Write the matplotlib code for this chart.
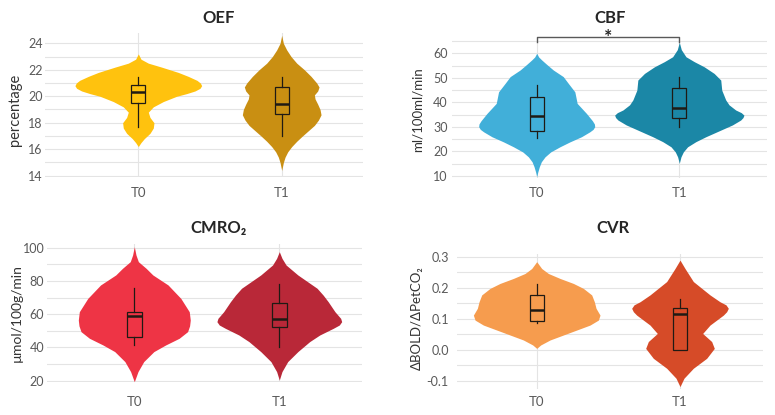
import matplotlib
matplotlib.use("Agg")
import matplotlib.pyplot as plt
from matplotlib.transforms import blended_transform_factory

plt.rcParams['axes.unicode_minus'] = False
FONT = ['Lato', 'DejaVu Sans']
plt.rcParams['font.family'] = FONT

# ---------------- data ----------------
groups = ["T0", "T1"]

# violin density profiles (y level, relative half-width)
oef_t0_y = [16.2, 16.5, 16.8, 17.2, 17.6, 18.0, 18.4, 18.8, 19.2, 19.6, 20.0, 20.2, 20.4, 20.6, 20.8, 21.0, 21.2, 21.5, 21.8, 22.2, 22.5, 22.8, 23.2]
oef_t0_d = [0, 8, 18, 35, 45, 47, 35, 30, 45, 75, 115, 145, 170, 185, 190, 186, 176, 150, 120, 70, 30, 8, 0]
oef_t1_y = [14.4, 15.0, 15.4, 15.8, 16.2, 16.6, 17.0, 17.4, 17.8, 18.2, 18.6, 19.0, 19.4, 19.8, 20.1, 20.4, 20.7, 21.0, 21.5, 22.0, 22.5, 23.0, 23.5, 24.0, 24.6]
oef_t1_d = [0, 5, 10, 18, 30, 45, 62, 80, 98, 110, 118, 115, 108, 100, 98, 108, 112, 105, 88, 68, 45, 28, 15, 5, 0]

cbf_t0_y = [9.7, 11.5, 13.8, 15.8, 17.8, 19.8, 21.9, 23.9, 26.0, 28.0, 29.0, 30.1, 31.2, 32.5, 35.5, 39.6, 44.3, 47.8, 50.5, 53.2, 55.5, 57.3, 58.5, 60.0]
cbf_t0_d = [0, 3, 8, 14, 25, 42, 70, 100, 135, 160, 170, 175, 174, 168, 150, 122, 115, 95, 80, 50, 30, 15, 6, 0]
cbf_t1_y = [15.2, 17.8, 19.8, 21.9, 24.0, 26.0, 28.4, 30.8, 32.8, 33.8, 34.8, 35.8, 36.9, 39.0, 41.0, 45.0, 49.1, 51.8, 54.5, 56.6, 58.6, 61.5, 64.5]
cbf_t1_d = [0, 5, 12, 25, 50, 80, 120, 160, 185, 192, 195, 187, 170, 150, 140, 128, 125, 105, 75, 45, 20, 6, 0]

cmro2_t0_y = [19.4, 25.5, 31.5, 37.5, 41.5, 45.5, 49.5, 53.0, 56.5, 61.5, 69.5, 77.6, 83.6, 87.6, 91.6, 95.6, 100.6]
cmro2_t0_d = [0, 11, 28, 58, 93, 133, 158, 164, 166, 163, 138, 100, 55, 35, 12, 5, 0]
cmro2_t1_y = [20.4, 25.5, 31.5, 37.5, 43.5, 47.5, 51.5, 53.5, 55.5, 57.5, 61.5, 67.5, 71.5, 75.6, 83.6, 89.6, 93.6, 97.6]
cmro2_t1_d = [0, 8, 25, 55, 90, 120, 160, 178, 185, 182, 165, 145, 130, 112, 55, 20, 8, 0]

cvr_t0_y = [0.005, 0.016, 0.032, 0.048, 0.064, 0.080, 0.096, 0.112, 0.134, 0.155, 0.177, 0.198, 0.214, 0.230, 0.246, 0.262, 0.284]
cvr_t0_d = [0, 12, 40, 80, 120, 160, 185, 190, 178, 173, 165, 140, 110, 70, 35, 15, 0]
cvr_t1_y = [-0.118, -0.091, -0.059, -0.027, 0.005, 0.027, 0.053, 0.080, 0.112, 0.123, 0.134, 0.145, 0.155, 0.177, 0.220, 0.262, 0.289]
cvr_t1_d = [0, 12, 40, 80, 103, 95, 68, 90, 130, 140, 145, 138, 120, 90, 40, 15, 0]

# box statistics: (whisker low, q1, median, q3, whisker high)
oef_box = [(17.7, 19.52, 20.35, 20.85, 21.45), (17.0, 18.63, 19.42, 20.67, 21.43)]
cbf_box = [(25.3, 28.4, 34.5, 42.3, 47.1), (29.8, 33.5, 37.6, 45.7, 50.2)]
cmro2_box = [(41.5, 46.1, 58.9, 61.5, 76.0), (40.1, 52.1, 57.1, 66.9, 78.0)]
cvr_box = [(0.086, 0.093, 0.128, 0.177, 0.212), (0.0, 0.0, 0.117, 0.134, 0.164)]

# ---------------- style ----------------
W, H = 775, 415
fig = plt.figure(figsize=(W / 100, H / 100), dpi=100)
SCALE = 1 / 430.0
GRID = '#E4E4E4'
TICKC = '#595959'
EDGE = '#1f1a14'

panels = [
    dict(title='OEF', ylabel='percentage', ylfs=10.5,
         prof=[(oef_t0_y, oef_t0_d), (oef_t1_y, oef_t1_d)], box=oef_box,
         colors=['#FFC20E', '#C98F12'],
         px=(45, 363, 138.3, 281.7), ymap=(24, 43.3, 14, 175.7), ylim=(13.9, 24.8),
         major=[14, 16, 18, 20, 22, 24], minor=[15, 17, 19, 21, 23], fmt='{:g}', pad=1.5,
         title_xy=(219, 18), ylabel_xy=(15, 110), xlab_y=193),
    dict(title='CBF', ylabel='ml/100ml/min', ylfs=9.5,
         prof=[(cbf_t0_y, cbf_t0_d), (cbf_t1_y, cbf_t1_d)], box=cbf_box,
         colors=['#41AFD9', '#1B87A6'],
         px=(452, 767, 536.7, 679.3), ymap=(60, 53.3, 10, 176), ylim=(9.3, 65.3),
         major=[10, 20, 30, 40, 50, 60], minor=[15, 25, 35, 45, 55, 65], fmt='{:g}', pad=3,
         title_xy=(610, 18), ylabel_xy=(418, 110), xlab_y=193),
    dict(title='CMRO₂', ylabel='µmol/100g/min', ylfs=10,
         prof=[(cmro2_t0_y, cmro2_t0_d), (cmro2_t1_y, cmro2_t1_d)], box=cmro2_box,
         colors=['#EE3445', '#B92838'],
         px=(47, 362, 134.3, 279.3), ymap=(100, 247.7, 20, 380.7), ylim=(19, 102),
         major=[20, 40, 60, 80, 100], minor=[30, 50, 70, 90], fmt='{:g}', pad=2,
         title_xy=(219, 228), ylabel_xy=(17, 313), xlab_y=402),
    dict(title='CVR', ylabel='ΔBOLD/ΔPetCO₂', ylfs=9.5,
         prof=[(cvr_t0_y, cvr_t0_d), (cvr_t1_y, cvr_t1_d)], box=cvr_box,
         colors=['#F69C4E', '#D64B28'],
         px=(457, 763, 536.7, 680), ymap=(0.3, 256.7, -0.1, 381), ylim=(-0.125, 0.31),
         major=[-0.1, 0.0, 0.1, 0.2, 0.3], minor=[-0.05, 0.05, 0.15, 0.25], fmt='{:.1f}', pad=6,
         title_xy=(613, 228), ylabel_xy=(417, 318), xlab_y=402),
]


def make_axes(p):
    left, right, xc0, xc1 = p['px']
    ya, ya_px, yb, yb_px = p['ymap']
    ylo, yhi = p['ylim']
    ppu = (yb_px - ya_px) / (ya - yb)
    top_px = ya_px - (yhi - ya) * ppu
    bot_px = yb_px + (yb - ylo) * ppu
    ax = fig.add_axes([left / W, 1 - bot_px / H, (right - left) / W, (bot_px - top_px) / H])
    span = xc1 - xc0
    ax.set_xlim((left - xc0) / span, 1 + (right - xc1) / span)
    ax.set_ylim(ylo, yhi)
    return ax


axes = []
for p in panels:
    ax = make_axes(p)
    axes.append(ax)
    for s in ax.spines.values():
        s.set_visible(False)
    ax.set_axisbelow(True)
    ax.set_xticks([0, 1])
    ax.set_xticklabels([])
    ax.set_yticks(p['major'])
    ax.set_yticklabels([p['fmt'].format(v) for v in p['major']], fontsize=9, color=TICKC)
    ax.set_yticks(p['minor'], minor=True)
    ax.tick_params(axis='both', which='both', length=0)
    ax.tick_params(axis='y', pad=p['pad'])
    ax.grid(axis='y', which='both', color=GRID, lw=0.8)
    ax.grid(axis='x', which='major', color=GRID, lw=0.8)

    for i, ((yy, dd), col) in enumerate(zip(p['prof'], p['colors'])):
        half = [d * SCALE for d in dd]
        ax.fill_betweenx(yy, [i - h for h in half], [i + h for h in half], color=col, lw=0, zorder=2)

    stats = [dict(whislo=b[0], q1=b[1], med=b[2], q3=b[3], whishi=b[4], label=g)
             for b, g in zip(p['box'], groups)]
    ax.bxp(stats, positions=[0, 1], widths=0.1, showfliers=False, showcaps=False,
           patch_artist=True, manage_ticks=False,
           boxprops=dict(facecolor='none', edgecolor=EDGE, lw=0.9),
           whiskerprops=dict(color=EDGE, lw=0.9),
           medianprops=dict(color=EDGE, lw=1.8), zorder=3)

    tr = blended_transform_factory(ax.transData, fig.transFigure)
    for i, g in enumerate(groups):
        ax.text(i, 1 - p['xlab_y'] / H, g, transform=tr, ha='center', va='center',
                fontsize=9.5, color=TICKC)

    fig.text(p['title_xy'][0] / W, 1 - p['title_xy'][1] / H, p['title'], ha='center', va='center',
             fontsize=12, fontweight='bold', color='#262626', family=FONT)
    fig.text(p['ylabel_xy'][0] / W, 1 - p['ylabel_xy'][1] / H, p['ylabel'], ha='center', va='center',
             rotation=90, fontsize=p['ylfs'], color='#333333', family=FONT)

# significance bracket on CBF
ax = axes[1]
ax.plot([0, 0, 1, 1], [64.8, 66.8, 66.8, 64.8], color='#595959', lw=1.0, clip_on=False, zorder=4)
tr = blended_transform_factory(ax.transData, fig.transFigure)
ax.text(0.5, 1 - 43 / H, '*', transform=tr, ha='center', va='baseline', fontsize=14,
        fontweight='bold', color='#262626')

fig.savefig('out.png', dpi=100)
